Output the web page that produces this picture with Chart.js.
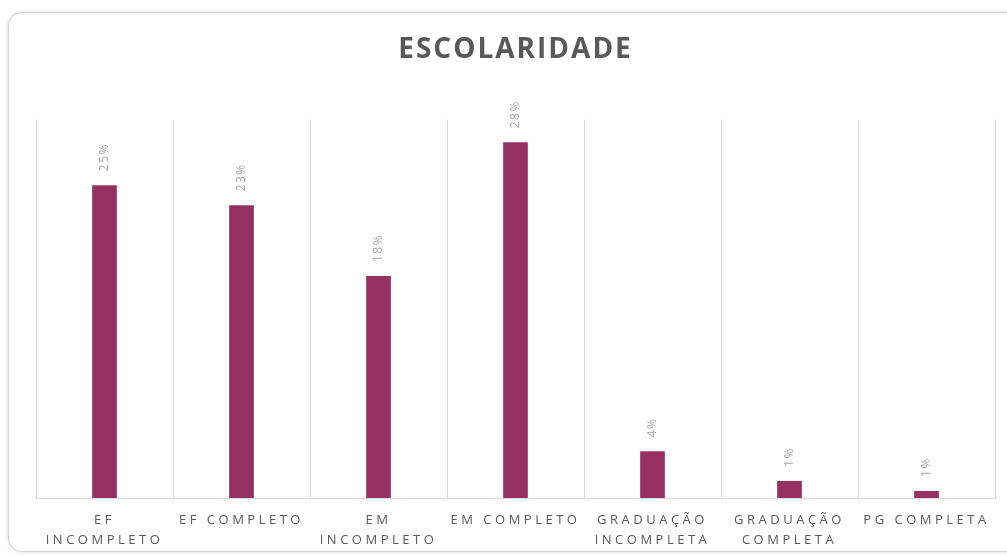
<!DOCTYPE html>
<html>
<head>
<meta charset="utf-8">
<script src="https://cdn.jsdelivr.net/npm/chart.js@4"></script>
<style>
  body { margin: 0; background: #fff; width: 1007px; height: 556px; overflow: hidden; position: relative; }
  #card { position: absolute; left: 8px; top: 12px; width: 1020px; height: 538px; border: 1px solid #d4d4d4;
          border-radius: 14px; box-shadow: 0 0 4px rgba(0,0,0,0.15); background: #fff; }
  #wrap { position: absolute; left: 0; top: 0; width: 1007px; height: 556px; }
</style>
</head>
<body>
<div id="card"></div>
<div id="wrap"><canvas id="escChart"></canvas></div>
<script>
// categories and values (percent)
const categories = [
  ['EF', 'INCOMPLETO'],
  'EF COMPLETO',
  ['EM', 'INCOMPLETO'],
  'EM COMPLETO',
  ['GRADUAÇÃO', 'INCOMPLETA'],
  ['GRADUAÇÃO', 'COMPLETA'],
  'PG COMPLETA'
];
const values = [24.8, 23.2, 17.6, 28.2, 3.7, 1.35, 0.56];
const valueLabels = ['25%', '23%', '18%', '28%', '4%', '1%', '1%'];

const barColor = '#963062';
const textGray = '#595959';

// a little spacing for the title
const spacing = {
  id: 'spacing',
  beforeDraw(chart) {
    chart.ctx.letterSpacing = '2px';
  }
};

// rotated value labels above each bar
const barLabels = {
  id: 'barLabels',
  afterDatasetsDraw(chart) {
    const ctx = chart.ctx;
    const meta = chart.getDatasetMeta(0);
    meta.data.forEach(function (bar, i) {
      ctx.save();
      ctx.letterSpacing = '1.5px';
      ctx.font = '12px "Open Sans"';
      ctx.fillStyle = '#a6a6a6';
      ctx.translate(bar.x, bar.y - 14);
      ctx.rotate(-Math.PI / 2);
      ctx.textAlign = 'left';
      ctx.textBaseline = 'middle';
      ctx.fillText(valueLabels[i], 0, 0);
      ctx.restore();
    });
  }
};

const ctx = document.getElementById('escChart').getContext('2d');
new Chart(ctx, {
  type: 'bar',
  data: {
    labels: categories,
    datasets: [{
      data: values,
      backgroundColor: barColor,
      barPercentage: 0.36,
      categoryPercentage: 0.5
    }]
  },
  options: {
    responsive: true,
    maintainAspectRatio: false,
    animation: false,
    layout: { padding: { left: 36, right: 12, top: 22, bottom: 0 } },
    plugins: {
      legend: { display: false },
      tooltip: { enabled: false },
      title: {
        display: true,
        text: 'ESCOLARIDADE',
        color: textGray,
        font: { family: 'Open Sans', size: 28, weight: 'bold' },
        padding: { top: 11, bottom: 53 }
      }
    },
    scales: {
      x: {
        grid: { display: true, offset: true, color: '#d9d9d9', drawTicks: false },
        border: { display: true, color: '#d9d9d9' },
        ticks: {
          color: textGray,
          font: { family: 'Open Sans', size: 13, lineHeight: 1.5 },
          maxRotation: 0,
          autoSkip: false,
          padding: 13
        },
        afterFit(scale) {
          scale.height = 58;
          // tick labels are spaced wider than the title
          if (!scale._spaced) {
            const draw = scale.drawLabels;
            scale.drawLabels = function (area) {
              this.ctx.save();
              this.ctx.letterSpacing = '3.5px';
              draw.call(this, area);
              this.ctx.restore();
            };
            scale._spaced = true;
          }
        }
      },
      y: {
        display: false,
        min: 0,
        max: 30
      }
    }
  },
  plugins: [spacing, barLabels]
});
</script>
</body>
</html>
